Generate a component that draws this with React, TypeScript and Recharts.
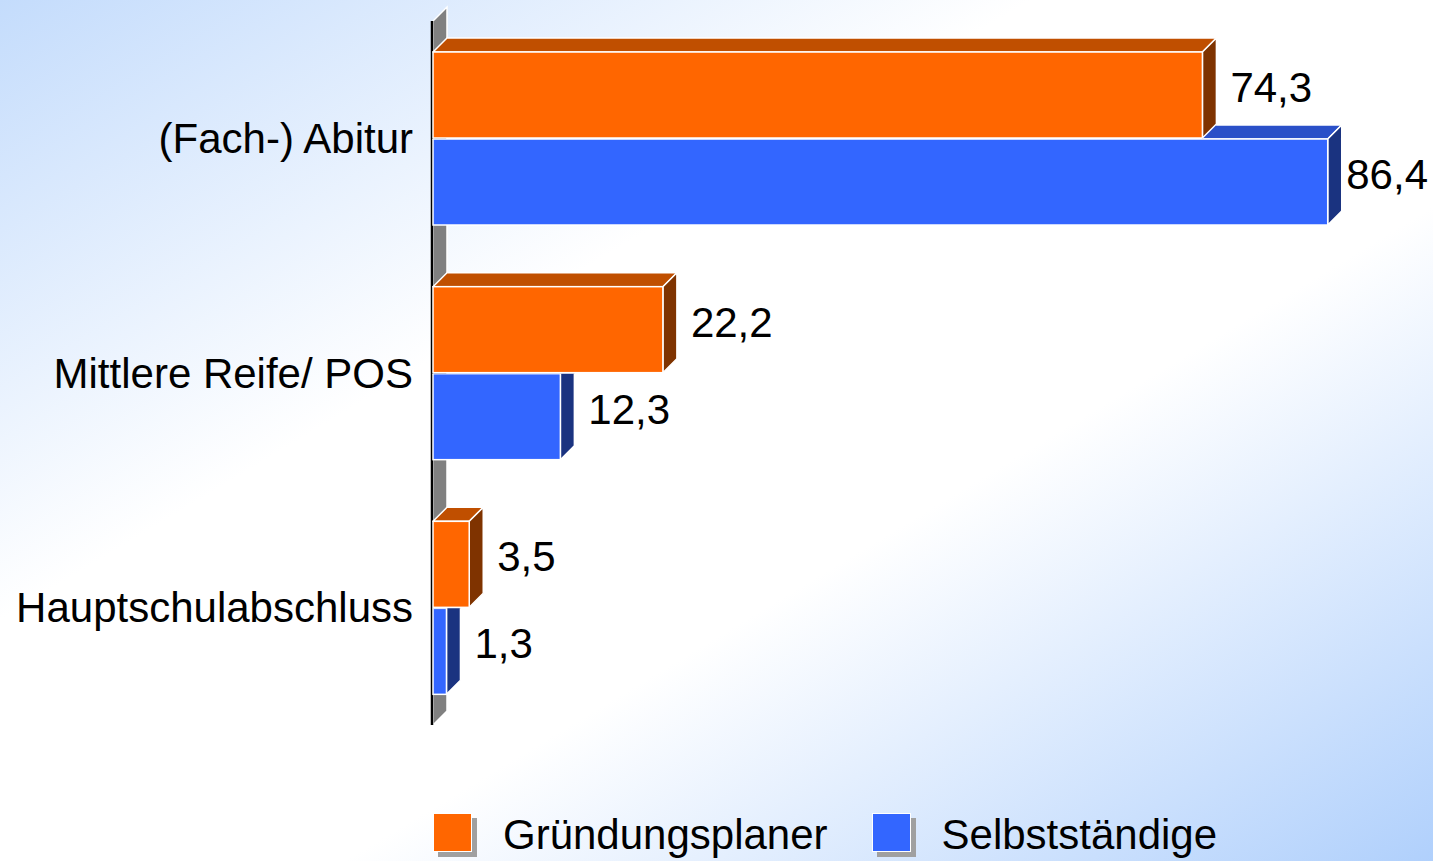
import { BarChart, Bar, XAxis, YAxis, ReferenceLine, LabelList, Legend } from "recharts";

// Chart data
const categories = ["(Fach-) Abitur", "Mittlere Reife/ POS", "Hauptschulabschluss"];
const gruendungsplaner = [74.3, 22.2, 3.5];
const selbststaendige = [86.4, 12.3, 1.3];
const seriesNames = ["Gründungsplaner", "Selbstständige"];

const data = categories.map((name, i) => ({
  name,
  gruend: gruendungsplaner[i],
  selbst: selbststaendige[i],
}));

const W = 1433;
const H = 861;
const DEPTH = 14;
const FONT = '"Liberation Sans", Arial, Helvetica, sans-serif';
const FS = 42;
const ORANGE = { front: "#ff6600", top: "#c04f00", side: "#7f3300" };
const BLUE = { front: "#3366ff", top: "#2a50c8", side: "#1a3380" };

// draw a 3D box: top face, right face, front face
function box(x: number, y: number, w: number, h: number, c: typeof ORANGE) {
  const d = DEPTH;
  return (
    <g>
      <polygon
        points={`${x},${y} ${x + d},${y - d} ${x + w + d},${y - d} ${x + w},${y}`}
        fill={c.top}
        stroke="#fff"
        strokeWidth={1.5}
        strokeLinejoin="round"
      />
      <polygon
        points={`${x + w},${y} ${x + w + d},${y - d} ${x + w + d},${y + h - d} ${x + w},${y + h}`}
        fill={c.side}
        stroke="#fff"
        strokeWidth={1.5}
        strokeLinejoin="round"
      />
      <rect x={x} y={y} width={w} height={h} fill={c.front} stroke="#fff" strokeWidth={1.5} />
    </g>
  );
}

function OrangeBar(props: any) {
  const { x, y, width, height } = props;
  return box(x, y, width, height, ORANGE);
}

// blue bar sits under the orange one, so hide what the orange box covers
function BlueBar(props: any) {
  const { x, y, width, height, payload, index } = props;
  const ow = payload.selbst ? (payload.gruend * width) / payload.selbst : 0;
  const id = `clip-blue-${index}`;
  const big = 5000;
  const pts = `${x - 20},${y} ${x + ow},${y} ${x + ow + DEPTH},${y - DEPTH} ${big},${y - DEPTH} ${big},${big} ${x - 20},${big}`;
  return (
    <g>
      <defs>
        <clipPath id={id}>
          <polygon points={pts} />
        </clipPath>
      </defs>
      <g clipPath={`url(#${id})`}>{box(x, y, width, height, BLUE)}</g>
    </g>
  );
}

function textWidth(s: string) {
  let w = 0;
  for (const ch of s) w += ch === "," ? 0.278 : 0.556;
  return w * FS;
}

function ValueLabel(props: any) {
  const { x, y, width, height, value } = props;
  const text = String(value).replace(".", ",");
  const tw = textWidth(text);
  let start = x + width + DEPTH + 14;
  if (start + tw > W - 5) start = W - 5 - tw;
  return (
    <text x={start} y={y + height / 2 - DEPTH / 2} dy="0.33em" fontSize={FS} fontFamily={FONT} fill="#000">
      {text}
    </text>
  );
}

function CategoryTick(props: any) {
  const { x, y, payload } = props;
  return (
    <text x={x} y={y} dy="0.35em" textAnchor="end" fontSize={FS} fontFamily={FONT} fill="#000">
      {payload.value}
    </text>
  );
}

// side wall behind the bars plus the black axis line
function Wall(props: any) {
  const { x1, y1, y2 } = props;
  const d = DEPTH;
  return (
    <g>
      <polygon
        points={`${x1},${y1} ${x1 + d},${y1 - d} ${x1 + d},${y2 - d} ${x1},${y2}`}
        fill="#808080"
        stroke="#fff"
        strokeWidth={1.5}
      />
      <line x1={x1 - 1} y1={y1} x2={x1 - 1} y2={y2} stroke="#000" strokeWidth={2.5} />
    </g>
  );
}

function LegendContent() {
  const colors = [ORANGE.front, BLUE.front];
  return (
    <div style={{ display: "flex", alignItems: "center", fontFamily: FONT, fontSize: FS, color: "#000" }}>
      {seriesNames.map((name, i) => (
        <div key={name} style={{ display: "flex", alignItems: "center", marginRight: 44 }}>
          <div style={{ position: "relative", width: 44, height: 44 }}>
            <div style={{ position: "absolute", left: 5, top: 5, width: 39, height: 39, background: "#a0a0a0" }} />
            <div
              style={{
                position: "absolute",
                left: 0,
                top: 0,
                width: 37,
                height: 37,
                background: colors[i],
                border: "1px solid #fff",
              }}
            />
          </div>
          <span style={{ marginLeft: 26, lineHeight: 1 }}>{name}</span>
        </div>
      ))}
    </div>
  );
}

export default function App() {
  return (
    <div
      style={{
        position: "absolute",
        left: 0,
        top: 0,
        width: W,
        height: H,
        overflow: "hidden",
        background: "linear-gradient(to bottom right, #c4dcfc 0%, #ffffff 36%, #ffffff 62%, #b0d0fc 100%)",
      }}
    >
      <BarChart
        width={W}
        height={H}
        data={data}
        layout="vertical"
        margin={{ top: 21, right: 68, bottom: 136, left: 0 }}
        barSize={86}
        barGap={1}
      >
        <XAxis type="number" domain={[0, 90]} hide />
        <YAxis
          type="category"
          dataKey="name"
          width={433}
          axisLine={false}
          tickLine={false}
          tickSize={0}
          tickMargin={20}
          tick={<CategoryTick />}
        />
        <ReferenceLine x={0} shape={<Wall />} ifOverflow="visible" zIndex={-50} />
        <Bar dataKey="gruend" name={seriesNames[0]} fill={ORANGE.front} shape={<OrangeBar />} isAnimationActive={false}>
          <LabelList dataKey="gruend" content={<ValueLabel />} />
        </Bar>
        <Bar dataKey="selbst" name={seriesNames[1]} fill={BLUE.front} shape={<BlueBar />} isAnimationActive={false}>
          <LabelList dataKey="selbst" content={<ValueLabel />} />
        </Bar>
        <Legend
          layout="horizontal"
          verticalAlign="middle"
          align="center"
          content={<LegendContent />}
          wrapperStyle={{ left: 433, top: 813, width: 900, height: 46 }}
        />
      </BarChart>
    </div>
  );
}
